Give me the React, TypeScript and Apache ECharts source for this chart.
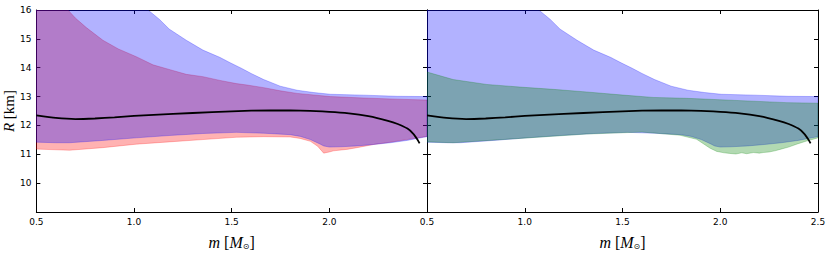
import React, { useEffect, useRef } from "react";
import * as echarts from "echarts";

// ---- data (m [M_sun], R [km]) ----
const lineM = [0.5, 0.6, 0.7, 0.8, 0.9, 1.0, 1.2, 1.4, 1.6, 1.8, 2.0, 2.1, 2.2, 2.3, 2.35, 2.4, 2.43, 2.45, 2.462];
const lineR = [12.35, 12.26, 12.22, 12.24, 12.28, 12.33, 12.4, 12.46, 12.51, 12.52, 12.47, 12.42, 12.32, 12.16, 12.05, 11.89, 11.71, 11.52, 11.38];

const blueUpper = [
  [0.5, 16], [1.072, 16], [1.131, 15.67], [1.18, 15.34], [1.268, 14.95], [1.353, 14.61], [1.439, 14.36],
  [1.493, 14.17], [1.55, 13.98], [1.6, 13.8], [1.664, 13.59], [1.749, 13.36], [1.835, 13.22], [1.92, 13.14],
  [2.005, 13.08], [2.176, 13.05], [2.347, 13.01], [2.5, 13.0],
];
const blueLower = [
  [0.5, 11.42], [0.6, 11.4], [0.67, 11.4], [0.84, 11.48], [1.012, 11.57], [1.18, 11.65], [1.353, 11.72],
  [1.524, 11.76], [1.664, 11.73], [1.8, 11.68], [1.852, 11.62], [1.903, 11.51], [1.954, 11.35], [1.971, 11.29],
  [2.0, 11.25], [2.056, 11.26], [2.142, 11.29], [2.227, 11.34], [2.313, 11.4], [2.398, 11.48], [2.483, 11.59],
  [2.5, 11.61],
];
const redUpper = [
  [0.5, 16], [0.662, 16], [0.7, 15.72], [0.756, 15.39], [0.841, 14.95], [0.92, 14.65], [1.012, 14.38],
  [1.097, 14.1], [1.18, 13.94], [1.268, 13.77], [1.353, 13.69], [1.44, 13.56], [1.524, 13.45], [1.579, 13.4],
  [1.664, 13.31], [1.749, 13.2], [1.835, 13.11], [2.005, 13.0], [2.176, 12.95], [2.347, 12.91], [2.5, 12.88],
];
const redLower = [
  [0.5, 11.18], [0.67, 11.14], [0.84, 11.23], [1.012, 11.35], [1.18, 11.43], [1.353, 11.51], [1.524, 11.59],
  [1.664, 11.61], [1.8, 11.6], [1.85, 11.55], [1.903, 11.45], [1.94, 11.28], [1.971, 11.04], [2.0, 11.08],
  [2.022, 11.12], [2.09, 11.17], [2.142, 11.23], [2.227, 11.34], [2.313, 11.42], [2.398, 11.51], [2.5, 11.62],
];
const greenUpper = [
  [0.5, 13.85], [0.634, 13.59], [0.805, 13.42], [0.975, 13.33], [1.146, 13.25], [1.316, 13.16], [1.487, 13.06],
  [1.657, 12.97], [1.828, 12.94], [1.998, 12.89], [2.169, 12.84], [2.34, 12.79], [2.5, 12.77],
];
const greenLower = [
  [0.5, 11.43], [0.634, 11.4], [0.975, 11.55], [1.316, 11.7], [1.6, 11.77], [1.794, 11.66], [1.879, 11.52],
  [1.948, 11.21], [1.982, 11.1], [2.02, 11.05], [2.048, 11.03], [2.08, 11.01], [2.11, 11.05], [2.135, 11.02],
  [2.17, 11.06], [2.2, 11.04], [2.22, 11.06], [2.25, 11.08], [2.28, 11.12], [2.306, 11.17], [2.35, 11.25],
  [2.391, 11.35], [2.442, 11.46], [2.49, 11.55], [2.5, 11.57],
];

const xTicks = { min: 0.5, max: 2.5, interval: 0.5 };
const yTicks = { min: 9, max: 16, interval: 1 };

const RED = "rgba(255,0,0,0.3)";
const BLUE = "rgba(0,0,255,0.3)";
const GREEN = "rgba(0,128,0,0.3)";

function band(upper: number[][], lower: number[][], color: string, axis: number) {
  return {
    type: "custom",
    coordinateSystem: "cartesian2d",
    xAxisIndex: axis * 2,
    yAxisIndex: axis * 2,
    silent: true,
    clip: true,
    data: [upper[0]],
    renderItem: (_params: any, api: any) => {
      const pts = [
        ...upper.map((p) => api.coord(p)),
        ...lower.slice().reverse().map((p) => api.coord(p)),
      ];
      return {
        type: "polygon",
        shape: { points: pts },
        style: { fill: color, stroke: color, lineWidth: 0.8 },
      };
    },
  };
}

function curve(axis: number) {
  return {
    type: "line",
    xAxisIndex: axis * 2,
    yAxisIndex: axis * 2,
    data: lineM.map((m, i) => [m, lineR[i]]),
    showSymbol: false,
    smooth: 0.2,
    silent: true,
    lineStyle: { color: "#000", width: 1.8 },
    z: 5,
  };
}

const tickFont = { fontFamily: "DejaVu Sans", fontSize: 9, color: "#000" };
const serif = "Liberation Serif";

function xAxes(grid: number, showMax: boolean) {
  const common = {
    gridIndex: grid,
    type: "value",
    ...xTicks,
    axisLine: { show: true, onZero: false, lineStyle: { color: "#000", width: 1 } },
    axisTick: { show: true, inside: true, length: 4, lineStyle: { color: "#000" } },
    splitLine: { show: false },
  };
  return [
    {
      ...common,
      position: "bottom",
      axisLabel: {
        ...tickFont,
        margin: 5,
        showMinLabel: true,
        showMaxLabel: showMax,
        formatter: (v: number) => v.toFixed(1),
      },
      name: "{i|m} [{i|M}{s|⊙}]",
      nameLocation: "middle",
      nameGap: 22,
      nameTextStyle: {
        fontFamily: serif,
        fontSize: 16,
        color: "#000",
        rich: {
          i: { fontFamily: serif, fontStyle: "italic", fontSize: 16, color: "#000" },
          s: { fontFamily: "DejaVu Sans", fontSize: 8, color: "#000", padding: [8, 0, 0, 0], verticalAlign: "bottom" },
        },
      },
    },
    { ...common, position: "top", axisLabel: { show: false } },
  ];
}

function yAxes(grid: number, labels: boolean) {
  const common = {
    gridIndex: grid,
    type: "value",
    ...yTicks,
    axisLine: { show: true, onZero: false, lineStyle: { color: "#000", width: 1 } },
    axisTick: { show: true, inside: true, length: 4, lineStyle: { color: "#000" } },
    splitLine: { show: false },
  };
  const left: any = {
    ...common,
    position: "left",
    axisLabel: labels
      ? { ...tickFont, margin: 5, showMinLabel: false, showMaxLabel: true }
      : { show: false },
  };
  if (labels) {
    left.name = "{i|R} [km]";
    left.nameLocation = "middle";
    left.nameGap = 14;
    left.nameTextStyle = {
      fontFamily: serif,
      fontSize: 15,
      color: "#000",
      rich: { i: { fontFamily: serif, fontStyle: "italic", fontSize: 15, color: "#000" } },
    };
  }
  return [left, { ...common, position: "right", axisLabel: { show: false } }];
}

export default function App() {
  const ref = useRef<HTMLDivElement>(null);
  useEffect(() => {
    if (!ref.current) return;
    const chart = echarts.init(ref.current, undefined, { renderer: "svg" });
    chart.setOption({
      animation: false,
      backgroundColor: "#fff",
      grid: [
        { left: 36, top: 10, width: 391, height: 208 },
        { left: 427, top: 10, width: 391, height: 208 },
      ],
      xAxis: [...xAxes(0, false), ...xAxes(1, true)],
      yAxis: [...yAxes(0, true), ...yAxes(1, false)],
      series: [
        band(redUpper, redLower, RED, 0),
        band(blueUpper, blueLower, BLUE, 0),
        curve(0),
        band(blueUpper, blueLower, BLUE, 1),
        band(greenUpper, greenLower, GREEN, 1),
        curve(1),
      ],
    });
    return () => chart.dispose();
  }, []);
  return <div ref={ref} style={{ position: "fixed", left: 0, top: 0, width: 830, height: 255 }} />;
}
